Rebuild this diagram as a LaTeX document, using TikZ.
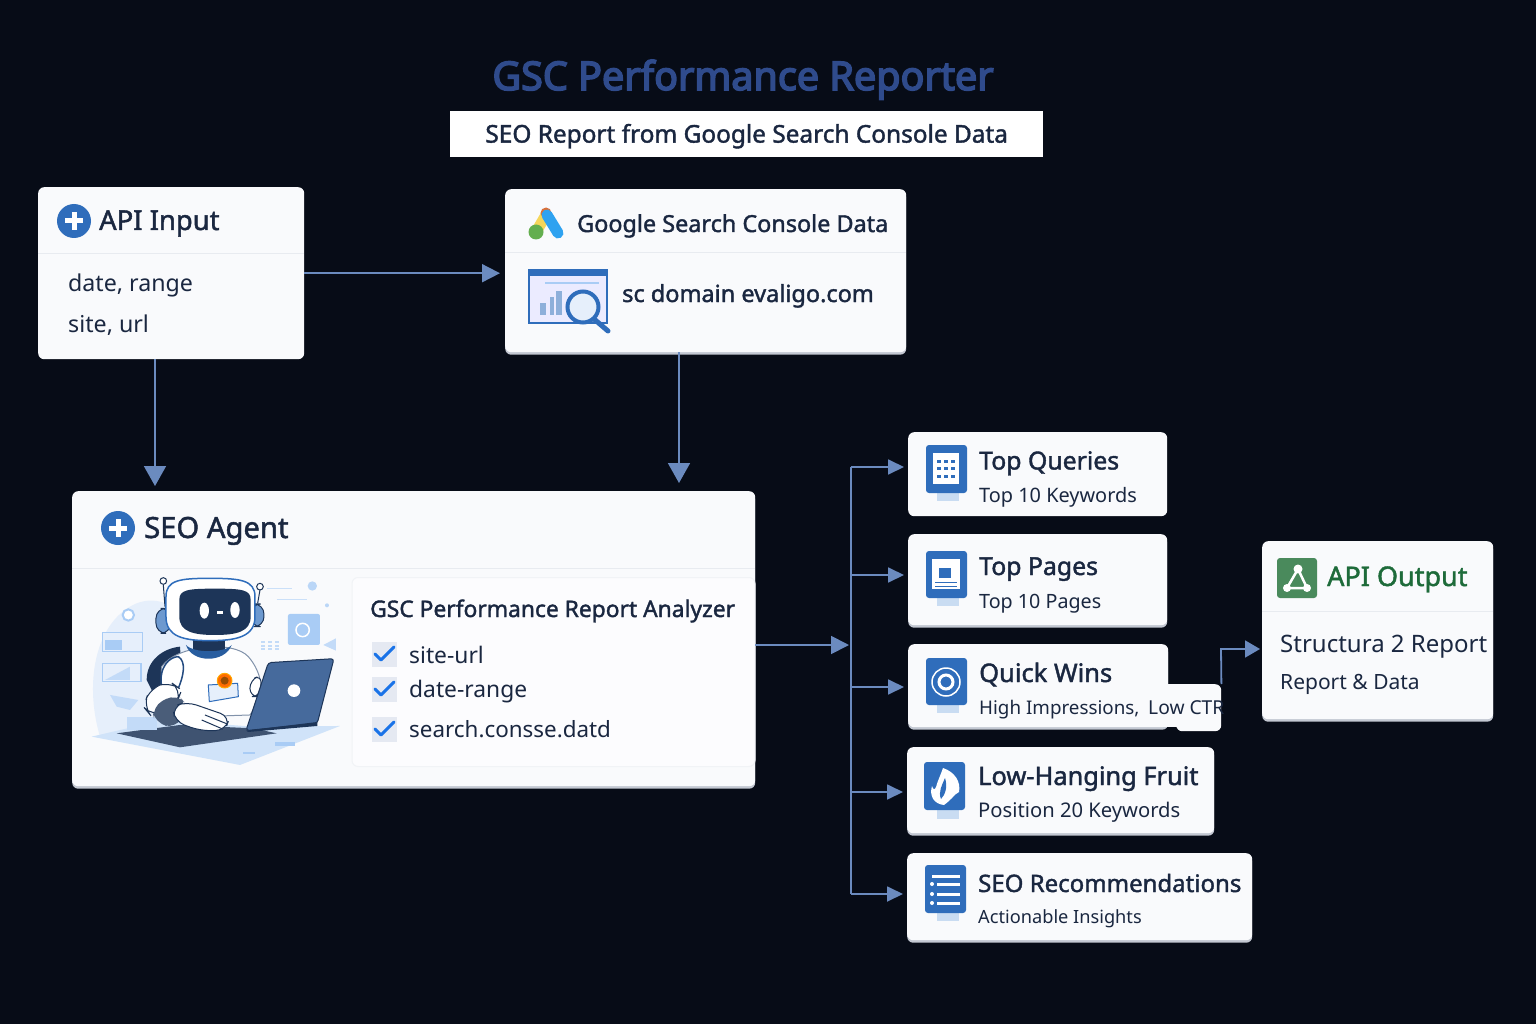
\documentclass[tikz,border=0pt]{standalone}
\usepackage{fontspec}
\setmainfont{Noto Sans}
\newfontfamily\medfont[FakeBold=1.6]{Noto Sans}
\newfontfamily\heavyfont[FakeBold=4]{Noto Sans}
\usepackage{xcolor}
\usetikzlibrary{arrows.meta,positioning}
\definecolor{bgdark}{HTML}{070C17}
\definecolor{cardfill}{HTML}{F9FAFC}
\definecolor{cardedge}{HTML}{C3C8D2}
\definecolor{ruleline}{HTML}{E8EBF0}
\definecolor{inktext}{HTML}{1A2740}
\definecolor{linkblue}{HTML}{6B8BBF}
\definecolor{iconblue}{HTML}{2F6DBB}
\definecolor{iconpale}{HTML}{C9DCF2}
\definecolor{titleblue}{HTML}{2F4B8C}
\definecolor{okgreen}{HTML}{1E6B3A}
\definecolor{iconok}{HTML}{4A8A5C}
\definecolor{tickblue}{HTML}{1A73E8}
\definecolor{tickbox}{HTML}{E5E9F2}
\definecolor{robonavy}{HTML}{1D3558}
\definecolor{robosky}{HTML}{A9CCF5}
\definecolor{robomist}{HTML}{E6EFFB}
\definecolor{robolid}{HTML}{466A9C}
\definecolor{adsyellow}{HTML}{F5D65A}
\definecolor{adsgreen}{HTML}{63AE4E}
\definecolor{adsblue}{HTML}{2FA2F0}
\definecolor{adsred}{HTML}{D9703A}
\begin{document}
\begin{tikzpicture}[
  x=1pt, y=-1pt,
  card/.style={
     rectangle, rounded corners=6pt, anchor=north west,
     fill=cardfill, inner sep=0pt},
  ledge/.style={preaction={fill=cardedge, transform canvas={yshift=-2.5pt}}},
  head/.style={anchor=base west, inner sep=0pt, text=inktext,
     font=\medfont\fontsize{#1}{#1}\selectfont},
  body/.style={anchor=base west, inner sep=0pt, text=inktext,
     font=\fontsize{#1}{#1}\selectfont},
  link/.style={draw=linkblue, line width=1.8pt,
     -{Triangle[length=18pt,width=18pt]}},
  sprig/.style={draw=linkblue, line width=1.8pt,
     -{Triangle[length=16pt,width=15pt]}},
  trunk/.style={draw=linkblue, line width=1.8pt},
  rule/.style={draw=ruleline, line width=1pt},
  tile/.style={fill=iconblue, rounded corners=3pt},
  tab/.style={fill=iconpale},
  tickmark/.style={draw=tickblue, line width=3pt, line cap=round, line join=round},
  robo/.style={draw=robonavy, line width=1pt, fill=white}]
\fill[bgdark] (0,0) rectangle (1536,1024);
\useasboundingbox (0,0) rectangle (1536,1024);
% title
\node[anchor=base, inner sep=0pt, text=titleblue,
      font=\heavyfont\fontsize{39.5}{39.5}\selectfont] (title) at (743,90) {GSC Performance Reporter};
\node[anchor=north west, fill=white, minimum width=593pt, minimum height=46pt, inner sep=0pt] (subbox) at (450,111) {};
\node[head=24.4, anchor=center] (subtitle) at ([yshift=-2pt]subbox.center) {SEO Report from Google Search Console Data};
% upper cards
\node[card, minimum width=266pt, minimum height=172pt] (apiin) at (38,187) {};
\node[card, ledge, minimum width=401pt, minimum height=163pt] (gsc) at (505,189) {};
\draw[rule] (38,254) -- (304,254);
\draw[rule] (505,253) -- (906,253);
% agent card
\node[card, ledge, minimum width=683pt, minimum height=295pt] (agent) at (72,491) {};
\draw[rule] (72,568) -- (755,568);
\node[card, fill=white!50!cardfill, draw=ruleline!60, line width=1pt, minimum width=403pt, minimum height=189pt] (panel) at (351.5,577) {};
% result cards
\node[card, minimum width=259pt, minimum height=84pt] (topq) at (908,432) {};
\node[card, ledge, minimum width=259pt, minimum height=91pt] (topp) at (908,534) {};
\node[card, minimum width=45pt, minimum height=47pt] (quickx) at (1176,684) {};
\node[card, ledge, minimum width=260pt, minimum height=83pt] (quick) at (908,644) {};
\fill[cardfill] (1160,684) rectangle (1200,727);
\node[card, ledge, minimum width=307pt, minimum height=86pt] (fruit) at (907,747) {};
\node[card, ledge, minimum width=345pt, minimum height=87pt] (recs) at (907,853) {};
\node[card, ledge, minimum width=231pt, minimum height=178pt] (apiout) at (1262,541) {};
\draw[rule] (1262,611) -- (1493,611);
% free ends of the connectors
\coordinate (downa) at (155,486);
\coordinate (downb) at (679,483);
\coordinate (busin) at (849,645);
\coordinate (bustop) at (851,467);
\coordinate (busbot) at (851,894);
\coordinate (elbow) at (1221,649);
% connectors
\draw[link] (apiin.east) -- ([xshift=-5pt]gsc.west |- apiin.east);
\draw[link, -{Triangle[length=20pt,width=22pt]}] (apiin.south -| downa) -- (downa);
\draw[link, -{Triangle[length=20pt,width=22pt]}] (gsc.south -| downb) -- (downb);
\draw[link] (agent.east |- busin) -- (busin);
\draw[trunk] (bustop) -- (busbot);
\foreach \ybus/\card in {467/topq,575/topp,687/quick,792/fruit,894/recs}
  \draw[sprig] (851,\ybus) -- ([xshift=-4pt]\card.west |- 851,\ybus);
\draw[sprig, -{Triangle[length=15pt,width=17pt]}] (quickx.north east) -- (elbow) -- ([xshift=-2pt]apiout.west |- elbow);
% plus badges
\foreach \cx/\cy in {74/221,118/528} {
  \fill[iconblue] (\cx,\cy) circle (17pt);
  \fill[white] (\cx-9,\cy-2.5) rectangle (\cx+9,\cy+2.5);
  \fill[white] (\cx-2.5,\cy-9) rectangle (\cx+2.5,\cy+9);
}
% texts of the upper cards
\node[head=27.4] (apiinT) at (99,230) {API Input};
\node[body=23.2] (apiinA) at (68,291) {date, range};
\node[body=23.2] (apiinB) at (68,332) {site, url};
\node[head=23.4] (gscT) at (577,232) {Google Search Console Data};
\node[head=23.5] (gscA) at (622,302) {sc domain evaligo.com};
% ads mark
\draw[line width=11pt, line cap=round, color=adsyellow] (536,232) -- (546,215);
\fill[adsgreen] (536,232) circle (7.5pt);
\fill[adsred] (546,213) circle (5.5pt);
\draw[line width=11pt, line cap=round, color=adsblue] (547,215) -- (558,233);
% console mark
\fill[white!92!blue] (529,270) rectangle (607,323);
\draw[iconblue, line width=1.5pt] (529,270) rectangle (607,323);
\fill[iconblue] (529,270) rectangle (607,276);
\draw[robosky, line width=1.5pt] (545,283) -- (599,283);
\fill[iconblue!55] (540,303) rectangle (546,315);
\fill[iconblue!55] (550,297) rectangle (554,315);
\fill[iconblue!55] (556,291) rectangle (562,315);
\draw[iconblue, line width=4pt, fill=robomist] (583,307) circle (15.5pt);
\draw[iconblue, line width=5pt, line cap=round] (594,319) -- (608,331);
% texts of the agent card
\node[head=29.2] (agentT) at (144,538) {SEO Agent};
\node[head=22.8] (panelT) at (370,617) {GSC Performance Report Analyzer};
\node[body=22.8] (argA) at (409,663) {site-url};
\node[body=22.8] (argB) at (409,697) {date-range};
\node[body=22.4] (argC) at (409,737) {search.consse.datd};
\foreach \cy in {654,689,729} {
  \fill[tickbox] (372,\cy-12.5) rectangle (397,\cy+12.5);
  \draw[tickmark] (375,\cy) -- (381,\cy+6) -- (394,\cy-7);
}
% robot
\begin{scope}[shift={(80,480)}, x=0.3333pt, y=-0.3333pt]
  \fill[robomist] (60,770) .. controls (10,600) and (50,420) .. (170,370) .. controls (300,320) and (420,500) .. (420,770) -- cycle;
  \fill[robosky!55] (35,770) -- (250,720) -- (520,740) -- (780,738) -- (480,855) -- cycle;
  \fill[robonavy!85] (110,760) -- (300,735) -- (520,745) -- (590,760) -- (300,802) -- cycle;
  \draw[robosky, line width=1.5pt, fill=robomist] (68,458) rectangle (188,515);
  \fill[robosky] (75,480) rectangle (125,510);
  \draw[robosky, line width=1.5pt, fill=robomist] (68,550) rectangle (183,605);
  \fill[robosky!70] (75,600) -- (150,560) -- (150,600) -- cycle;
  \draw[robosky, line width=2pt, fill=white] (145,405) circle (17);
  \fill[robosky!70] (90,645) -- (175,660) -- (150,690) -- (110,680) -- cycle;
  \fill[robosky!70] (140,712) rectangle (230,750);
  \fill[robosky, rounded corners=2pt] (624,402) rectangle (720,495);
  \draw[white, line width=1.5pt] (668,450) circle (20);
  \fill[robosky!80] (697,318) circle (14);
  \fill[robosky!80] (741,376) circle (6);
  \draw[robosky!60, line width=1pt] (560,325) -- (635,325);
  \draw[robosky!60, line width=1pt] (590,358) -- (680,358);
  \fill[robosky!70] (730,495) -- (768,475) -- (768,512) -- cycle;
  \foreach \gx in {550,570,590} \foreach \gy in {485,497,508}
    \fill[robosky!70] (\gx-6,\gy-3) rectangle (\gx+6,\gy+3);
  \fill[robosky] (490,815) rectangle (525,822);
  \fill[robosky] (585,785) rectangle (645,798);
  % backpack and body
  \fill[robonavy] (200,600) .. controls (200,540) and (250,505) .. (300,500) -- (310,640) -- (215,630) -- cycle;
  \draw[robo, draw=robomist!50!robonavy] (245,560) .. controls (290,495) and (460,480) .. (505,530) .. controls (540,570) and (550,620) .. (540,660) -- (510,705) -- (300,712) .. controls (260,680) and (240,620) .. (245,560) -- cycle;
  \fill[robonavy] (340,470) rectangle (435,512);
  \fill[iconblue!85!black] (318,495) .. controls (335,550) and (435,550) .. (455,495) .. controls (435,520) and (340,520) .. (318,495) -- cycle;
  \draw[robo, draw=iconblue, fill=robomist] (385,615) -- (473,610) -- (475,650) -- (388,665) -- cycle;
  \fill[orange!85!red, draw=orange!70!yellow, line width=1pt] (434,602) circle (22);
  \fill[orange!60!black] (434,602) circle (12);
  % shoulder loop
  \draw[iconblue!40!robonavy, line width=1.5pt, fill=white] (245,620) .. controls (235,560) and (270,530) .. (295,530) .. controls (320,545) and (310,590) .. (295,625);
  % head
  \fill[iconblue!70!white, draw=robonavy, line width=1pt, rounded corners=10pt] (228,385) rectangle (272,460);
  \fill[iconblue!70!white, draw=robonavy, line width=1pt, rounded corners=10pt] (512,372) rectangle (552,440);
  \draw[robo] (255,380) -- (250,315);
  \draw[robo] (533,370) -- (540,330);
  \draw[robo] (250,303) circle (10);
  \draw[robo] (540,320) circle (10);
  \draw[robo, draw=iconblue, line width=1.5pt] (258,350) .. controls (258,300) and (300,295) .. (390,295) .. controls (480,295) and (525,300) .. (525,350) -- (525,410) .. controls (525,470) and (470,482) .. (390,482) .. controls (310,482) and (258,470) .. (258,410) -- cycle;
  \fill[robonavy] (298,360) .. controls (298,330) and (320,326) .. (405,326) .. controls (490,326) and (512,330) .. (512,360) -- (512,410) .. controls (512,455) and (470,465) .. (405,465) .. controls (340,465) and (298,455) .. (298,410) -- cycle;
  \fill[white] (373,392) ellipse (14 and 24);
  \fill[white] (465,390) ellipse (14 and 24);
  \fill[white] (412,394) rectangle (428,401);
  % arms
  \draw[robo, rounded corners=12pt] (190,680) -- (210,625) -- (270,605) -- (305,630) -- (290,670) -- (215,710) -- cycle;
  \fill[robonavy!80, rounded corners=12pt] (215,680) -- (290,640) -- (325,680) -- (290,745) -- (225,730) -- cycle;
  \draw[robo, rounded corners=10pt] (278,680) -- (320,665) -- (450,710) -- (435,752) -- (360,752) -- (285,725) -- cycle;
  \draw[robo] (375,705) -- (442,732);
  \draw[robo] (365,720) -- (430,748);
  \draw[robo, rounded corners=8pt] (510,600) -- (545,585) -- (540,650) -- (510,650) -- cycle;
  % laptop
  \fill[robolid, draw=robonavy, line width=1pt, rounded corners=3pt] (565,548) -- (762,536) -- (712,730) -- (498,752) -- cycle;
  \fill[robonavy] (498,752) -- (712,726) -- (712,738) -- (505,756) -- cycle;
  \fill[white] (642,632) circle (19);
\end{scope}
% tile of top queries
\fill[tab] (937,490) rectangle (959,501);
\fill[tile] (926,445) rectangle (967,493);
\fill[white] (933,453) rectangle (959,484);
\foreach \gx in {939,946,953} \foreach \gy in {461,468,476}
  \fill[iconblue] (\gx-2,\gy-1.5) rectangle (\gx+2,\gy+1.5);
% tile of top pages
\fill[tab] (937,595) rectangle (959,606);
\fill[tile] (926,551) rectangle (967,598);
\fill[white] (932,559) rectangle (960,589);
\fill[iconblue] (939,568) rectangle (951,578);
\fill[iconblue] (935,582) rectangle (957,583);
\fill[iconblue] (935,585.5) rectangle (957,586.5);
% tile of quick wins
\fill[tab] (937,702) rectangle (959,713);
\fill[tile] (926,658) rectangle (967,705);
\draw[white, line width=1.5pt] (946,682) circle (14pt);
\draw[white, line width=3pt] (946,682) circle (7pt);
% tile of low-hanging fruit
\fill[tab] (937,807) rectangle (959,819);
\fill[tile] (924,762) rectangle (965,810);
\fill[white] (943,768) .. controls (955,772) and (961,782) .. (959,792) .. controls (956,793) and (954,796) .. (952,798) .. controls (950,800) and (948,802) .. (944,805) .. controls (934,804) and (929,796) .. (932,786) .. controls (933,790) and (935,790) .. (936,787) .. controls (938,780) and (941,774) .. (943,768) -- cycle;
\fill[iconblue] (945,778) .. controls (942,785) and (938,792) .. (941,799) .. controls (945,795) and (948,787) .. (945,778) -- cycle;
% tile of recommendations
\fill[tab] (937,910) rectangle (959,921);
\fill[tile] (925,865) rectangle (966,913);
\fill[white] (932,874.5) rectangle (960,877.5);
\foreach \gy in {884,894,903} {
  \fill[white] (932,\gy) circle (2pt);
  \fill[white] (937,\gy-1.5) rectangle (960,\gy+1.5);
}
% texts of the result cards
\node[head=24.8] (topqT) at (979,469.5) {Top Queries};
\node[body=19.9] (topqS) at (979,502) {Top 10 Keywords};
\node[head=24.8] (toppT) at (979,575) {Top Pages};
\node[body=19.7] (toppS) at (979,608) {Top 10 Pages};
\node[head=25.5] (quickT) at (979,682) {Quick Wins};
\node[body=18.8] (quickS) at (979,714) {High Impressions,};
\node[body=19.2] (quickR) at (1148,714) {Low CTR};
\node[head=25.4] (fruitT) at (978,785) {Low-Hanging Fruit};
\node[body=20.2] (fruitS) at (978,817) {Position 20 Keywords};
\node[head=24] (recsT) at (978,892) {SEO Recommendations};
\node[body=18.2] (recsS) at (978,923) {Actionable Insights};
% output card
\fill[iconok, rounded corners=3pt] (1277,558) rectangle (1317,598);
\draw[white, line width=2.5pt] (1298,569) -- (1287,588) -- (1307,588) -- cycle;
\fill[white] (1298,569) circle (4.5pt);
\fill[white] (1287,588) circle (4pt);
\fill[white] (1307,588) circle (4pt);
\node[head=27, text=okgreen] (apioutT) at (1327,586) {API Output};
\node[body=24] (apioutA) at (1280,652) {Structura 2 Report};
\node[body=21] (apioutB) at (1280,689) {Report \& Data};
\end{tikzpicture}
\end{document}
